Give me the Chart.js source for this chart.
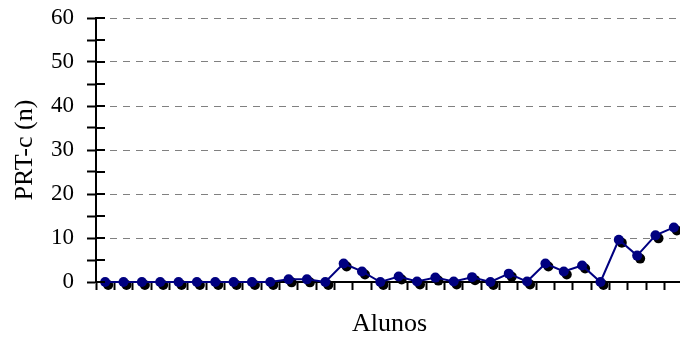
<!DOCTYPE html>
<html>
<head>
<meta charset="utf-8">
<script src="https://cdn.jsdelivr.net/npm/chart.js"></script>
<style>
  html, body { margin: 0; padding: 0; background: #fff; overflow: hidden; }
  #wrap { width: 688px; height: 338px; }
</style>
</head>
<body>
<div id="wrap"><canvas id="chart" width="688" height="338"></canvas></div>
<script>
// students (categories) and PRT-c values
const alunos = ["1","2","3","4","5","6","7","8","9","10","11","12","13","14","15","16",
                "17","18","19","20","21","22","23","24","25","26","27","28","29","30","31","32"];
const prtC = [0, 0, 0, 0, 0, 0, 0, 0, 0, 0, 0.6, 0.6, 0, 4.2, 2.4, 0,
              1.25, 0.1, 1.0, 0.1, 1.1, 0, 1.9, 0.1, 4.2, 2.4, 3.75, 0, 9.6, 6.0, 10.6, 12.4];
const yTicks = [0, 10, 20, 30, 40, 50, 60];

const serif = "'Liberation Serif', 'Times New Roman', serif";

// black marker shadow behind the navy markers
const markerShadow = {
  id: "markerShadow",
  beforeDatasetsDraw(chart) {
    const ctx = chart.ctx;
    const meta = chart.getDatasetMeta(0);
    ctx.save();
    ctx.fillStyle = "#000";
    meta.data.forEach(p => {
      ctx.beginPath();
      ctx.arc(p.x + 3, p.y + 3, 5, 0, Math.PI * 2);
      ctx.fill();
    });
    ctx.restore();
  }
};

// y tick marks cross the axis: draw the inner half
const crossTicks = {
  id: "crossTicks",
  afterDraw(chart) {
    const ctx = chart.ctx;
    const y = chart.scales.y;
    const left = chart.chartArea.left;
    ctx.save();
    ctx.strokeStyle = "#000";
    ctx.lineWidth = 2;
    y.ticks.forEach(t => {
      const py = Math.round(y.getPixelForValue(t.value));
      ctx.beginPath();
      ctx.moveTo(left, py);
      ctx.lineTo(left + 9, py);
      ctx.stroke();
    });
    ctx.restore();
  }
};

new Chart("chart", {
  type: "line",
  data: {
    labels: alunos,
    datasets: [{
      data: prtC,
      borderColor: "#000080",
      borderWidth: 2,
      backgroundColor: "#000080",
      pointBackgroundColor: "#000080",
      pointBorderColor: "#000080",
      pointRadius: 5,
      pointBorderWidth: 0,
      tension: 0,
      clip: false
    }]
  },
  options: {
    responsive: false,
    animation: false,
    devicePixelRatio: 1,
    layout: { padding: { top: 18, right: 0, bottom: 0, left: 0 } },
    plugins: { legend: { display: false }, tooltip: { enabled: false } },
    scales: {
      x: {
        offset: true,
        grid: {
          offset: true,
          drawOnChartArea: false,
          tickLength: 8,
          tickColor: "#000",
          tickWidth: 2
        },
        border: { color: "#000", width: 2 },
        ticks: { display: false, autoSkip: false },
        title: {
          display: true,
          text: "Alunos",
          color: "#000",
          font: { family: serif, size: 26, lineHeight: 0.9 },
          padding: { top: 0, bottom: 2 }
        },
        afterFit(s) { s.height = 56; s.paddingLeft = 0; s.paddingRight = 0; }
      },
      y: {
        min: 0,
        max: 60,
        ticks: {
          stepSize: 5,
          autoSkip: false,
          color: "#000",
          font: { family: serif, size: 23 },
          padding: 13,
          callback: v => yTicks.includes(v) ? String(v) : ""
        },
        grid: {
          color: c => (c.tick && c.tick.value % 10 === 0 && c.tick.value !== 0) ? "#808080" : "rgba(0,0,0,0)",
          lineWidth: 1,
          tickLength: 9,
          tickColor: "#000",
          tickWidth: 2
        },
        border: { color: "#000", width: 2, dash: [7, 6] },
        title: {
          display: true,
          text: "PRT-c (n)",
          color: "#000",
          font: { family: serif, size: 26 },
          padding: { top: 10, bottom: 0 }
        },
        afterFit(s) { s.width = 96; s.paddingTop = 0; s.paddingBottom = 0; }
      }
    }
  },
  plugins: [markerShadow, crossTicks]
});
</script>
</body>
</html>
